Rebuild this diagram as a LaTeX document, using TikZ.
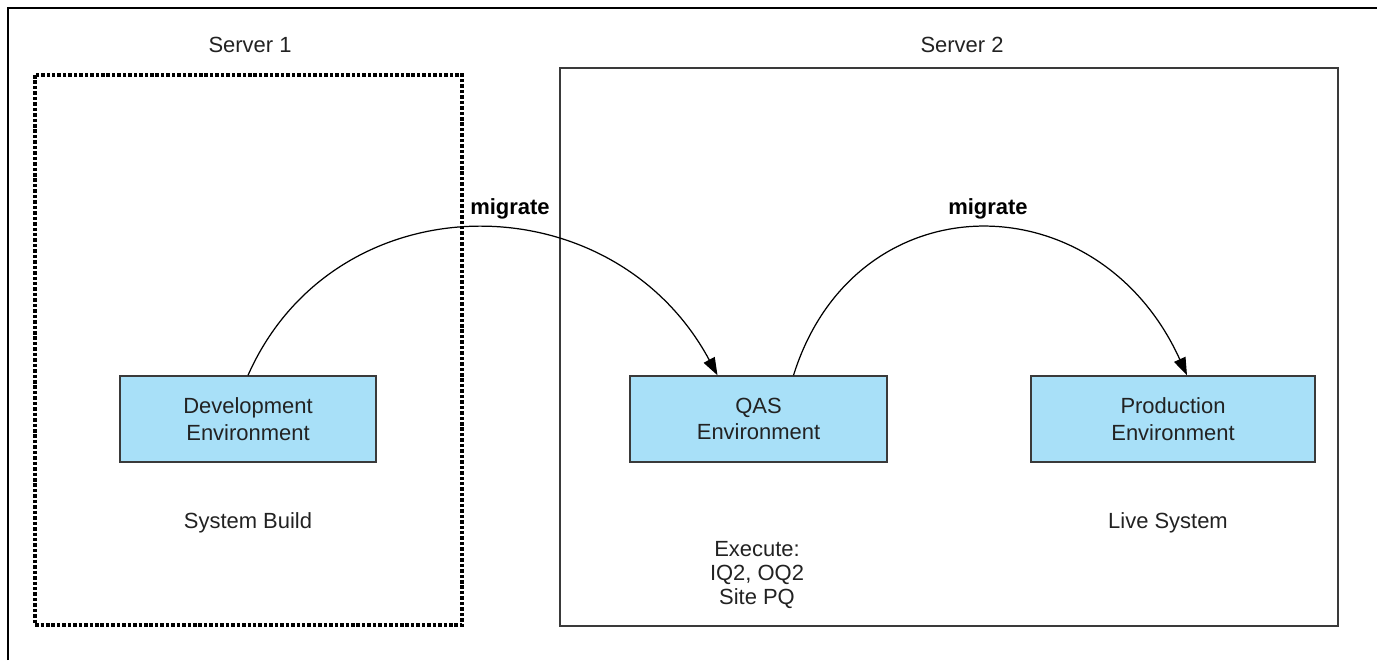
\documentclass[tikz,border=0pt]{standalone}
\usepackage{fontspec}
\setmainfont{Liberation Sans}
\usetikzlibrary{arrows.meta,calc}
\definecolor{boxfill}{HTML}{A8E0F8}
\definecolor{boxline}{HTML}{3A3A3A}
\definecolor{txt}{HTML}{222222}
\tikzset{
  envbox/.style={draw=boxline, line width=0.8pt, fill=boxfill, align=center, text=txt,
    font=\fontsize{12.5}{15}\selectfont, inner sep=0pt},
  plain/.style={align=center, text=txt, font=\fontsize{12.5}{13.6}\selectfont, inner sep=0pt},
  miglabel/.style={text=black, font=\fontsize{12.5}{15}\selectfont\bfseries, inner sep=0pt},
  migarrow/.style={draw=black, line width=0.7pt, -{Triangle[length=10pt,width=7pt]}},
  serverbox/.style={draw=boxline, line width=1.1pt},
  dottedbox/.style={draw=black, line width=2.2pt, dash pattern=on 2pt off 1.1pt},
  frame/.style={draw=black, line width=1.1pt}
}
\begin{document}
\begin{tikzpicture}[x=0.02cm, y=-0.02cm]
\useasboundingbox (0,0) rectangle (1377,660);
% outer frame (top and left edges)
\draw[frame] (8,660) -- (8,8) -- (1377,8);
% servers
\draw[dottedbox] (35,75) rectangle (462,625);
\draw[serverbox] (560,68) rectangle (1338,626);
\node[plain] (s1) at (250,45) {Server 1};
\node[plain] (s2) at (962,45) {Server 2};
% environment boxes
\node[envbox, minimum width=5.12cm, minimum height=1.72cm] (dev) at (248,419) {Development\\Environment};
\node[envbox, minimum width=5.14cm, minimum height=1.72cm] (qas) at (758.5,419) {QAS\\Environment};
\node[envbox, minimum width=5.68cm, minimum height=1.72cm] (prod) at (1173,419) {Production\\Environment};
% captions
\node[plain] (cap1) at (248,523) {System Build};
\node[plain] (cap2) at (757,575) {Execute:\\IQ2, OQ2\\Site PQ};
\node[plain] (cap3) at (1168,523) {Live System};
% migrate arrows
\coordinate (a1s) at (dev.north);
\coordinate (a1e) at ($(qas.north)+(-41,0)$);
\coordinate (a2s) at ($(qas.north)+(35,0)$);
\coordinate (a2e) at ($(prod.north)+(14,0)$);
\draw[migarrow] (a1s) .. controls (335,179) and (612,179) .. (a1e);
\draw[migarrow] (a2s) .. controls (855,179) and (1098,179) .. (a2e);
\node[miglabel] (m1) at (510,209) {migrate};
\node[miglabel] (m2) at (988,209) {migrate};
\end{tikzpicture}
\end{document}
